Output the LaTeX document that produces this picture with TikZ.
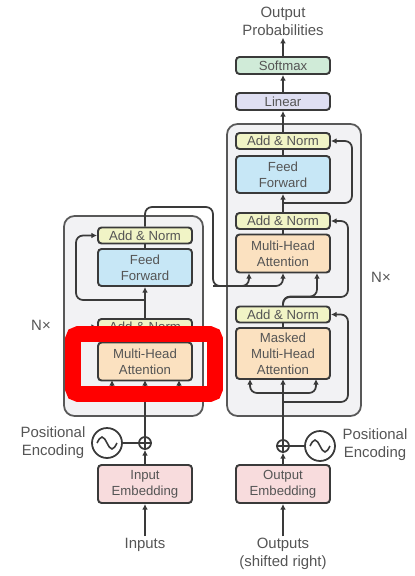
\documentclass[tikz,border=0pt]{standalone}
\usepackage{fontspec}
\setmainfont{Liberation Sans}
\usepackage{xcolor}
\usepackage{tikz}
\usetikzlibrary{arrows.meta}

\definecolor{normyellow}{HTML}{F1F4C6}
\definecolor{ffblue}{HTML}{C7E7F6}
\definecolor{attorange}{HTML}{FBE1C0}
\definecolor{embpink}{HTML}{F8DCDD}
\definecolor{linpurple}{HTML}{DFDFF2}
\definecolor{smgreen}{HTML}{D0EBD8}
\definecolor{blockgray}{HTML}{F2F2F4}
\definecolor{inkgray}{HTML}{3A3A3A}
\definecolor{textgray}{HTML}{555555}

\begin{document}
\begin{tikzpicture}[x=0.02cm,y=-0.02cm,
	box/.style={rectangle,draw=inkgray,line width=1.1pt,rounded corners=2pt,minimum width=1.88cm,inner sep=0pt,align=center,text=textgray,font=\fontsize{7.5}{9}\selectfont},
	addnorm/.style={box,fill=normyellow,minimum height=0.32cm},
	feedfwd/.style={box,fill=ffblue,minimum height=0.74cm},
	attn/.style={box,fill=attorange,minimum height=0.76cm},
	embed/.style={box,fill=embpink,minimum height=0.76cm},
	linbox/.style={box,fill=linpurple,minimum height=0.34cm},
	smbox/.style={box,fill=smgreen,minimum height=0.34cm},
	block/.style={draw=inkgray!85,fill=blockgray,line width=1pt,rounded corners=6pt},
	wire/.style={draw=inkgray,line width=1pt,rounded corners=4pt},
	arr/.style={wire,-{Latex[length=3.2pt,width=3.2pt]}},
	lbl/.style={text=textgray,align=center,inner sep=1pt,font=\fontsize{8.5}{10}\selectfont},
	plus/.style={circle,draw=inkgray,line width=1pt,minimum size=0.24cm,inner sep=0pt},
	wave/.style={circle,draw=inkgray,line width=1pt,minimum size=0.6cm,inner sep=0pt},
	highlight/.style={draw=red,line width=9pt,rounded corners=3pt}]

	\useasboundingbox[fill=white] (0,0) rectangle (415,576);

	% the two stacks
	\draw[block] (64,216) rectangle (203,416);
	\draw[block] (227,124) rectangle (361,416);

	% encoder
	\node[addnorm] (EncNormB) at (145,235.5) {Add \& Norm};
	\node[feedfwd] (EncFF)    at (145,267.5) {Feed\\Forward};
	\node[addnorm] (EncNormA) at (145,327)   {Add \& Norm};
	\node[attn]    (EncMHA)   at (145,361.5) {Multi-Head\\Attention};
	\node[plus]    (EncPlus)  at (145,443) {};
	\node[wave]    (EncPE)    at (107,443) {};
	\node[embed]   (EncEmb)   at (145,484) {Input\\Embedding};
	\node[lbl]     (Inputs)   at (145,545) {Inputs};
	\node[lbl]     (EncPos)   at (53,442.5) {Positional\\Encoding};
	\node[lbl]     (EncN)     at (41,325) {N×};

	% decoder
	\node[linbox]  (DecLin)   at (283,101.5) {Linear};
	\node[smbox]   (DecSm)    at (283,65.5)  {Softmax};
	\node[lbl]     (OutProb)  at (283,21.5)  {Output\\Probabilities};
	\node[addnorm] (DecNormC) at (283,141)   {Add \& Norm};
	\node[feedfwd] (DecFF)    at (283,174.5) {Feed\\Forward};
	\node[addnorm] (DecNormB) at (283,221)   {Add \& Norm};
	\node[attn]    (DecMHA)   at (283,253.5) {Multi-Head\\Attention};
	\node[addnorm] (DecNormA) at (283,314.5) {Add \& Norm};
	\node[attn,minimum height=1.02cm] (DecMMHA) at (283,353.5) {Masked\\Multi-Head\\Attention};
	\node[plus]    (DecPlus)  at (283,446) {};
	\node[wave]    (DecPE)    at (320,446) {};
	\node[embed]   (DecEmb)   at (283,484) {Output\\Embedding};
	\node[lbl]     (Outputs)  at (283,554) {Outputs\\(shifted right)};
	\node[lbl]     (DecPos)   at (375,444.5) {Positional\\Encoding};
	\node[lbl]     (DecN)     at (381,277) {N×};

	% forks and attention inputs
	\coordinate (EncSplit) at (145,392);
	\coordinate (EncForkA) at (145,400);
	\coordinate (EncForkB) at (145,300);
	\coordinate (EncQ) at (112,380);
	\coordinate (EncK) at (145,380);
	\coordinate (EncV) at (179,380);
	\coordinate (EncTop) at (213,207);
	\coordinate (EncTurn) at (213,286);
	\coordinate (DecSplit) at (283,393);
	\coordinate (DecForkA) at (283,402);
	\coordinate (DecForkC) at (283,203);
	\coordinate (DecBend) at (348,297);
	\coordinate (DecMQ) at (250,379);
	\coordinate (DecMK) at (283,379);
	\coordinate (DecMV) at (316,379);
	\coordinate (DecK) at (249,273);
	\coordinate (DecV) at (283,273);
	\coordinate (DecQ) at (317,273);

	% plus signs and sine waves
	\draw[line width=1pt,draw=inkgray] (EncPlus.north) -- (EncPlus.south) (EncPlus.west) -- (EncPlus.east);
	\draw[line width=1pt,draw=inkgray] (DecPlus.north) -- (DecPlus.south) (DecPlus.west) -- (DecPlus.east);
	\draw[line width=0.9pt,draw=inkgray] (EncPE) ++(-10,0) sin ++(5,-6) cos ++(5,6) sin ++(5,6) cos ++(5,-6);
	\draw[line width=0.9pt,draw=inkgray] (DecPE) ++(-10,0) sin ++(5,-6) cos ++(5,6) sin ++(5,6) cos ++(5,-6);

	% draw the encoder lines
	\draw[arr]  (Inputs)   -- (EncEmb);
	\draw[arr]  (EncEmb)   -- (EncPlus);
	\draw[wire] (EncPE)    -- (EncPlus);
	\draw[wire] (EncPlus)  -- (EncSplit);
	\draw[arr]  (EncSplit) -| (EncQ);
	\draw[arr]  (EncSplit) -- (EncK);
	\draw[arr]  (EncSplit) -| (EncV);
	\draw[arr]  (EncForkA) -- ++(-69,0) |- (EncNormA.west);
	\draw[wire] (EncMHA)   -- (EncNormA);
	\draw[arr]  (EncNormA) -- (EncFF);
	\draw[arr]  (EncForkB) -- ++(-69,0) |- (EncNormB.west);
	\draw[wire] (EncFF)    -- (EncNormB);
	\draw[arr]  (EncNormB.north) |- (EncTop) -- (EncTurn) -| (DecV);
	\draw[arr]  (EncTurn)  -| (DecK);

	% draw the decoder lines
	\draw[arr]  (Outputs)  -- (DecEmb);
	\draw[arr]  (DecEmb)   -- (DecPlus);
	\draw[wire] (DecPE)    -- (DecPlus);
	\draw[wire] (DecPlus)  -- (DecSplit);
	\draw[arr]  (DecSplit) -| (DecMQ);
	\draw[arr]  (DecSplit) -- (DecMK);
	\draw[arr]  (DecSplit) -| (DecMV);
	\draw[arr]  (DecForkA) -- ++(65,0) |- (DecNormA.east);
	\draw[wire] (DecMMHA)  -- (DecNormA);
	\draw[arr]  (DecNormA.north) -- ++(0,-9) -| (DecQ);
	\draw[arr]  (DecNormA.north) |- (DecBend) |- (DecNormB.east);
	\draw[wire] (DecMHA)   -- (DecNormB);
	\draw[arr]  (DecNormB) -- (DecFF);
	\draw[arr]  (DecForkC) -- ++(69,0) |- (DecNormC.east);
	\draw[wire] (DecFF)    -- (DecNormC);
	\draw[arr]  (DecNormC) -- (DecLin);
	\draw[arr]  (DecLin)   -- (DecSm);
	\draw[arr]  (DecSm)    -- (OutProb);

	% red frame round the encoder attention
	\draw[highlight] (73,334) rectangle (215,394);
\end{tikzpicture}
\end{document}
